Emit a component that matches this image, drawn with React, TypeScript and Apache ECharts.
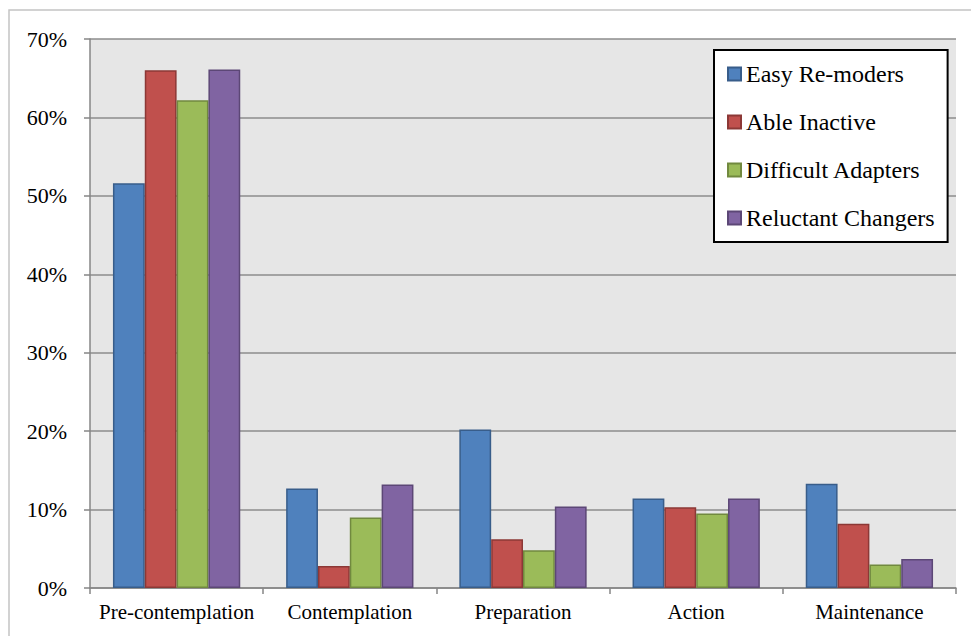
import React, { useEffect, useRef } from "react";
import * as echarts from "echarts";

// Stages of change, share of each segment (percent)
const categories = ["Pre-contemplation", "Contemplation", "Preparation", "Action", "Maintenance"];
const seriesNames = ["Easy Re-moders", "Able Inactive", "Difficult Adapters", "Reluctant Changers"];
const easyRemoders = [51.6, 12.7, 20.2, 11.4, 13.3];
const ableInactive = [66.0, 2.8, 6.2, 10.3, 8.2];
const difficultAdapters = [62.2, 9.0, 4.8, 9.5, 3.0];
const reluctantChangers = [66.1, 13.2, 10.4, 11.4, 3.7];
const yTicks = { min: 0, max: 70, interval: 10 };

const fills = ["#4f81bd", "#c0504d", "#9bbb59", "#8064a2"];
const edges = ["#385d8a", "#8c3836", "#71893f", "#5c4776"];
const serif = "Liberation Serif, serif";

export default function App() {
  const ref = useRef<HTMLDivElement>(null);

  useEffect(() => {
    if (!ref.current) return;
    const chart = echarts.init(ref.current, null, { renderer: "svg" });
    const values = [easyRemoders, ableInactive, difficultAdapters, reluctantChangers];

    chart.setOption({
      animation: false,
      backgroundColor: "#ffffff",
      textStyle: { fontFamily: serif, color: "#000" },
      graphic: [
        {
          type: "rect",
          shape: { x: 9, y: 10, width: 1000, height: 700 },
          style: { fill: "none", stroke: "#c4c4c4", lineWidth: 1.5 },
          z: -1,
        },
      ],
      grid: {
        left: 90,
        top: 39,
        right: 15,
        bottom: 48,
        show: true,
        backgroundColor: "#e6e6e6",
        borderWidth: 0,
      },
      legend: {
        orient: "vertical",
        left: 714,
        top: 50,
        padding: [12, 13, 12, 13],
        itemGap: 24,
        itemWidth: 13,
        itemHeight: 13,
        icon: "rect",
        backgroundColor: "#ffffff",
        borderColor: "#000000",
        borderWidth: 2,
        borderRadius: 0,
        textStyle: { fontFamily: serif, fontSize: 24, lineHeight: 24, color: "#000" },
        data: seriesNames,
      },
      xAxis: {
        type: "category",
        data: categories,
        axisLine: { show: true, lineStyle: { color: "#868686", width: 1.5 } },
        axisTick: { show: true, length: 6, lineStyle: { color: "#868686", width: 1.5 } },
        axisLabel: { fontFamily: serif, fontSize: 21, color: "#000", margin: 13, interval: 0 },
        splitLine: { show: false },
      },
      yAxis: {
        type: "value",
        min: yTicks.min,
        max: yTicks.max,
        interval: yTicks.interval,
        axisLine: { show: true, lineStyle: { color: "#868686", width: 1.5 } },
        axisTick: { show: true, length: 6, lineStyle: { color: "#868686", width: 1.5 } },
        axisLabel: {
          fontFamily: serif,
          fontSize: 22,
          color: "#000",
          margin: 23,
          formatter: "{value}%",
        },
        splitLine: { show: true, lineStyle: { color: "#8c8c8c", width: 1.5 } },
      },
      series: seriesNames.map((name, i) => ({
        name,
        type: "bar",
        data: values[i],
        barGap: "0%",
        barCategoryGap: "26.5%",
        itemStyle: { color: fills[i], borderColor: edges[i], borderWidth: 1.5 },
      })),
    });

    return () => chart.dispose();
  }, []);

  return (
    <div
      ref={ref}
      style={{ position: "fixed", left: 0, top: 0, width: 971, height: 636 }}
    />
  );
}
